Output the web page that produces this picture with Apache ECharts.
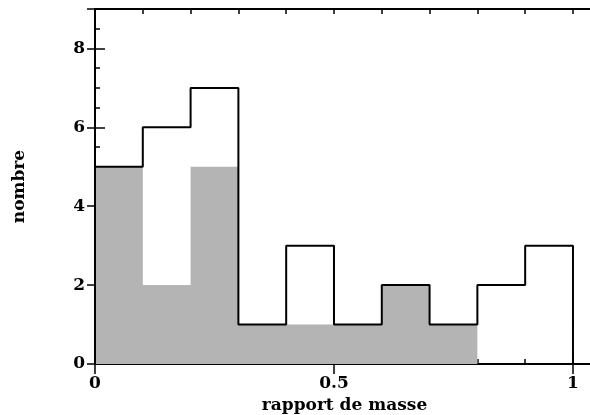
<!DOCTYPE html>
<html>
<head>
<meta charset="utf-8">
<script src="https://cdn.jsdelivr.net/npm/echarts@6/dist/echarts.min.js"></script>
<style>
html,body{margin:0;padding:0;background:#fff;}
#chart{width:590px;height:415px;}
</style>
</head>
<body>
<div id="chart"></div>
<script>
// Data
const binEdges = [0, 0.1, 0.2, 0.3, 0.4, 0.5, 0.6, 0.7, 0.8, 0.9, 1.0];
const totalCounts = [5, 6, 7, 1, 3, 1, 2, 1, 2, 3];
const subsetCounts = [5, 2, 5, 1, 1, 1, 2, 1, 0, 0];
const xTickValues = [0, 0.5, 1];
const xTickLabels = ['0', '0.5', '1'];
const yTickValues = [0, 2, 4, 6, 8];
const yTickLabels = ['0', '2', '4', '6', '8'];

const FONT = 'DejaVu Serif';
const near = (a, b) => Math.abs(a - b) < 1e-6;

function stepPoints(counts) {
  const pts = [[binEdges[0], 0]];
  for (let i = 0; i < counts.length; i++) pts.push([binEdges[i], counts[i]]);
  pts.push([binEdges[binEdges.length - 1], counts[counts.length - 1]]);
  pts.push([binEdges[binEdges.length - 1], 0]);
  return pts;
}
const outline = stepPoints(totalCounts);
const greyArea = stepPoints(subsetCounts);

const XMAX = 1.044, YMAX = 9;
const lineStyle = {color: '#000', width: 2};

function xAx(pos, interval, len, opts) {
  return Object.assign({
    type: 'value', position: pos, min: 0, max: XMAX, interval: interval,
    axisLine: {show: false, lineStyle: lineStyle},
    axisTick: {show: true, inside: true, length: len, lineStyle: {color: '#000', width: 1.5}},
    axisLabel: {show: false},
    splitLine: {show: false}
  }, opts || {});
}
function yAx(pos, interval, len, opts) {
  return Object.assign({
    type: 'value', position: pos, min: 0, max: YMAX, interval: interval,
    axisLine: {show: false, lineStyle: lineStyle},
    axisTick: {show: true, inside: true, length: len, lineStyle: {color: '#000', width: 1.5}},
    axisLabel: {show: false},
    splitLine: {show: false}
  }, opts || {});
}

const chart = echarts.init(document.getElementById('chart'));
chart.setOption({
  animation: false,
  backgroundColor: '#fff',
  grid: {left: 95, right: -4, top: 9, bottom: 51, containLabel: false, outerBoundsMode: 'none'},
  xAxis: [
    xAx('bottom', 0.1, 5, {
      axisLine: {show: true, onZero: false, lineStyle: lineStyle},
      axisLabel: {
        show: true, margin: 11, color: '#000', fontFamily: FONT, fontWeight: 'bold', fontSize: 17,
        formatter: v => { const k = xTickValues.findIndex(t => near(t, v)); return k >= 0 ? xTickLabels[k] : ''; }
      },
      name: 'rapport de masse', nameLocation: 'middle', nameGap: 28,
      nameTextStyle: {color: '#000', fontFamily: FONT, fontWeight: 'bold', fontSize: 17}
    }),
    xAx('bottom', 0.5, 10),
    xAx('top', 0.1, 5, {axisLine: {show: true, onZero: false, lineStyle: lineStyle}}),
    xAx('top', 0.5, 10)
  ],
  yAxis: [
    yAx('left', 0.5, 5, {
      axisLine: {show: true, onZero: false, lineStyle: lineStyle},
      axisLabel: {
        show: true, margin: 10, color: '#000', fontFamily: FONT, fontWeight: 'bold', fontSize: 17,
        formatter: v => { const k = yTickValues.findIndex(t => near(t, v)); return k >= 0 ? yTickLabels[k] : ''; }
      },
      name: 'nombre', nameLocation: 'middle', nameGap: 67, nameRotate: 90,
      nameTextStyle: {color: '#000', fontFamily: FONT, fontWeight: 'bold', fontSize: 17}
    }),
    yAx('left', 2, 10),
    yAx('right', 2, 8)
  ],
  series: [
    {
      type: 'line',
      xAxisIndex: 0, yAxisIndex: 0,
      data: greyArea,
      step: 'end',
      symbol: 'none',
      lineStyle: {width: 0, color: '#b4b4b4'},
      areaStyle: {color: '#b4b4b4', opacity: 1},
      z: 1
    },
    {
      type: 'line',
      xAxisIndex: 0, yAxisIndex: 0,
      data: outline,
      step: 'end',
      symbol: 'none',
      lineStyle: {color: '#000', width: 2},
      z: 3
    }
  ]
});
</script>
</body>
</html>
